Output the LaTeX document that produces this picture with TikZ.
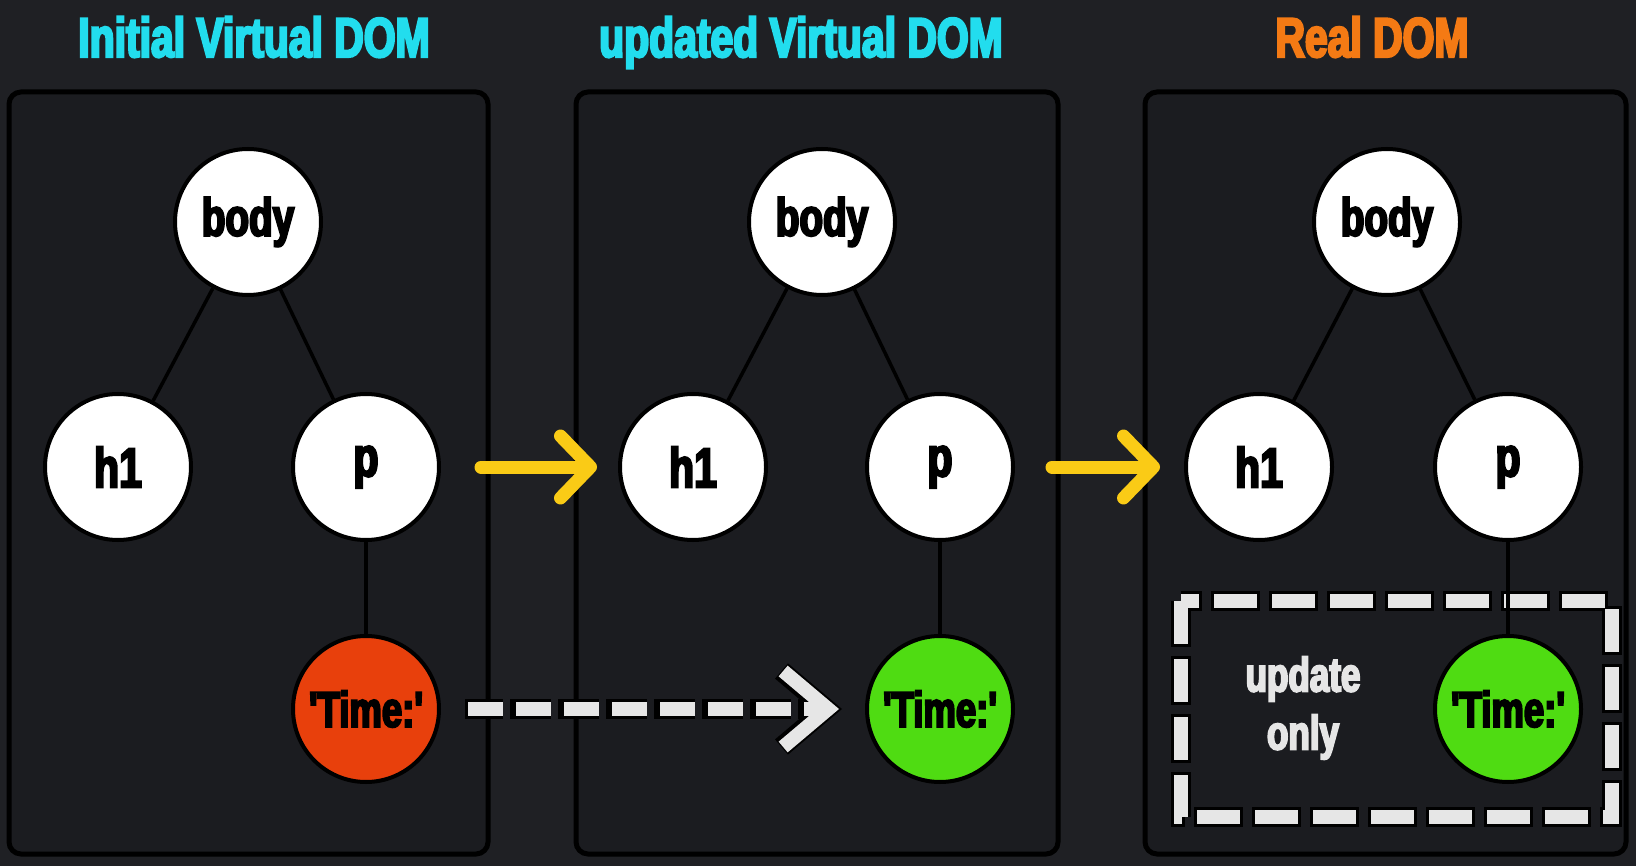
\documentclass[tikz,border=0pt]{standalone}
\usepackage{fontspec}
\usetikzlibrary{arrows.meta}

\newfontfamily\heavyfont{Liberation Sans}[UprightFont=* Bold, FakeStretch=0.73, FakeBold=4]

\definecolor{bgdark}{HTML}{1F2024}
\definecolor{paneldark}{HTML}{1B1C20}
\definecolor{titlecyan}{HTML}{22DDEE}
\definecolor{titleorange}{HTML}{F47A14}
\definecolor{timered}{HTML}{E8400C}
\definecolor{timegreen}{HTML}{4FDC12}
\definecolor{arrowyellow}{HTML}{FACB16}
\definecolor{dashwhite}{HTML}{E6E6E6}

\tikzset{
  panel/.style={draw=black, line width=5pt, fill=paneldark, rounded corners=12pt},
  title/.style={anchor=base, inner sep=0pt, font=\heavyfont\fontsize{56}{60}\selectfont},
  domnode/.style={circle, draw=black, line width=4pt, fill=white, minimum size=146pt,
    inner sep=0pt, font=\heavyfont\fontsize{53}{56}\selectfont},
  tagnode/.style={domnode, font=\heavyfont\fontsize{56}{60}\selectfont},
  timenode/.style={domnode, font=\heavyfont\fontsize{50}{54}\selectfont},
  edge/.style={draw=black, line width=3.5pt},
  yarrow/.style={draw=arrowyellow, line width=13pt, line cap=round,
    -{Straight Barb[length=30pt,width=62pt,round]}},
  dashout/.style={draw=black, line width=20pt, dash pattern=on 41pt off 7pt, dash phase=3pt,
    shorten <=24pt, shorten >=23pt, -{Straight Barb[length=45pt,width=76pt]}},
  dashin/.style={draw=dashwhite, line width=14pt, dash pattern=on 35pt off 13pt,
    shorten <=27pt, shorten >=26pt, -{Straight Barb[length=45pt,width=76pt]}},
  boxout/.style={draw=black, line width=20pt, dash pattern=on 49pt off 9pt, dash phase=3pt},
  boxin/.style={draw=dashwhite, line width=14pt, dash pattern=on 43pt off 15pt},
  note/.style={align=center, text=dashwhite, inner sep=0pt,
    font=\heavyfont\fontsize{48}{58}\selectfont}
}

\begin{document}
\begin{tikzpicture}[x=1pt,y=-1pt]

    % Background
    \fill[bgdark] (0,0) rectangle (1636,866);
    \useasboundingbox (0,0) rectangle (1636,866);

    % Three panels
    \draw[panel] (9,92) rectangle (488,854);
    \draw[panel] (576,92) rectangle (1058,854);
    \draw[panel] (1145,92) rectangle (1626,854);

    % Titles
    \node[title, text=titlecyan] (tinit) at (254,57) {Initial Virtual DOM};
    \node[title, text=titlecyan] (tupd) at (801,57) {updated Virtual DOM};
    \node[title, text=titleorange] (treal) at (1372,57) {Real DOM};

    % Dashed box round the changed node
    \draw[boxout] (1181,601) rectangle (1612,817);
    \draw[boxin] (1181,601) rectangle (1612,817);
    \node[note] (updtxt) at (1303,708) {update\\only};

    % Initial virtual DOM tree
    \node[domnode] (body1) at (248,222) {body};
    \node[tagnode] (h1a) at (118,467) {h1};
    \node[tagnode] (p1) at (366,467) {p};
    \node[timenode, fill=timered] (time1) at (366,709) {'Time:'};

    % Updated virtual DOM tree
    \node[domnode] (body2) at (822,222) {body};
    \node[tagnode] (h1b) at (693,467) {h1};
    \node[tagnode] (p2) at (940,467) {p};
    \node[timenode, fill=timegreen] (time2) at (940,709) {'Time:'};

    % Real DOM tree
    \node[domnode] (body3) at (1387,222) {body};
    \node[tagnode] (h1c) at (1259,467) {h1};
    \node[tagnode] (p3) at (1508,467) {p};
    \node[timenode, fill=timegreen] (time3) at (1508,709) {'Time:'};

    % Tree edges
    \draw[edge] (body1) -- (h1a);
    \draw[edge] (body1) -- (p1);
    \draw[edge] (p1) -- (time1);
    \draw[edge] (body2) -- (h1b);
    \draw[edge] (body2) -- (p2);
    \draw[edge] (p2) -- (time2);
    \draw[edge] (body3) -- (h1c);
    \draw[edge] (body3) -- (p3);
    \draw[edge] (p3) -- (time3);

    % Yellow arrows between panels
    \draw[yarrow, shorten <=40pt, shorten >=21pt] (p1) -- (h1b);
    \draw[yarrow, shorten <=37pt, shorten >=24pt] (p2) -- (h1c);

    % Dashed diff arrow
    \draw[dashout] (time1) -- (time2);
    \draw[dashin] (time1) -- (time2);

\end{tikzpicture}
\end{document}
